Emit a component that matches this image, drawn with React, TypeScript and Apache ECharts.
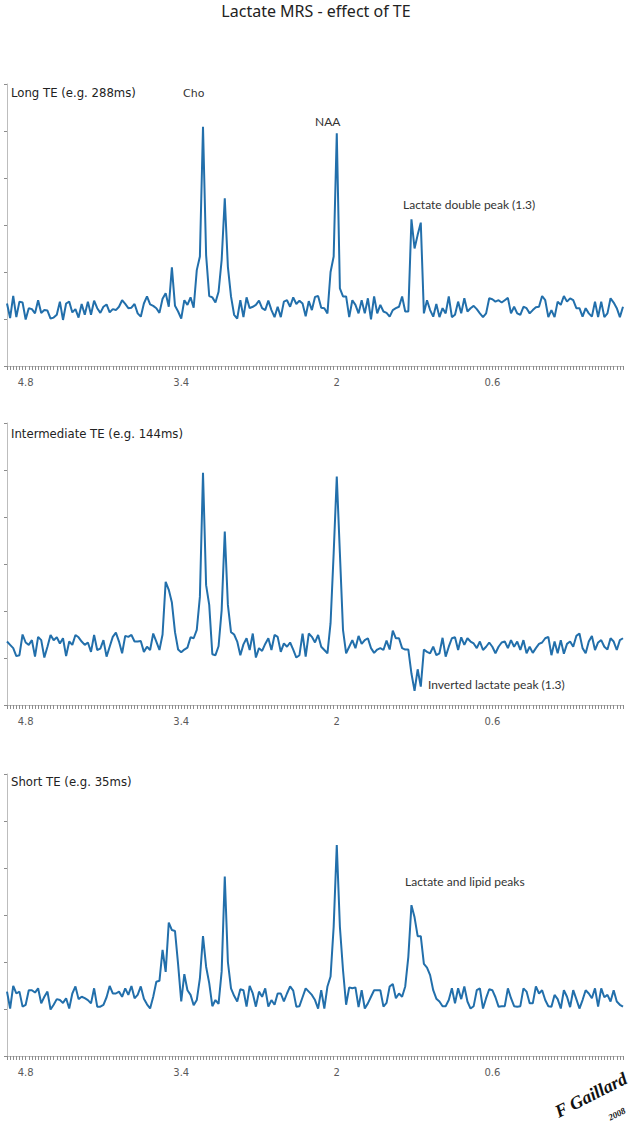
import React, { useEffect, useRef } from "react";
import * as echarts from "echarts";

// ---- axis definition (chemical shift, ppm, decreasing to the right) ----
const ppmStart = 4.968;
const ppmStep = 0.028;
const pointCount = 199;
const ppmTickLabels = ["4.8", "3.4", "2", "0.6"];

// ---- texts ----
const chartTitle = "Lactate MRS - effect of TE";
const panelTitles = ["Long TE (e.g. 288ms)", "Intermediate TE (e.g. 144ms)", "Short TE (e.g. 35ms)"];
const peakLabels = ["Cho", "NAA", "Lactate double peak (1.3)", "Inverted lactate peak (1.3)", "Lactate and lipid peaks"];
const signature = ["F Gaillard", "2008"];

// ---- spectra (signal, arbitrary units) ----
const longTE = [
  1.33, 1.02, 1.49, 1.04, 1.37, 1.35, 0.99, 1.23, 1.21, 1.12,
  1.40, 1.13, 1.19, 1.18, 1.01, 1.03, 1.09, 1.37, 0.98, 1.33,
  1.37, 1.14, 1.21, 1.03, 1.32, 1.09, 1.37, 1.09, 1.39, 1.23,
  1.13, 1.26, 1.31, 1.14, 1.21, 1.19, 1.26, 1.40, 1.32, 1.23,
  1.24, 1.32, 1.12, 1.05, 1.33, 1.48, 1.31, 1.28, 1.23, 1.13,
  1.43, 1.55, 1.26, 2.10, 1.28, 1.16, 1.01, 1.40, 1.30, 1.46,
  1.24, 2.04, 2.33, 5.09, 2.36, 1.49, 1.46, 1.35, 1.58, 2.26,
  3.57, 2.11, 1.48, 1.09, 1.01, 1.40, 1.04, 1.46, 1.23, 1.26,
  1.30, 1.39, 1.23, 1.19, 1.39, 1.19, 1.04, 1.26, 1.04, 1.37,
  1.40, 1.26, 1.46, 1.32, 1.39, 1.33, 1.06, 1.38, 1.19, 1.47,
  1.49, 1.24, 1.23, 1.12, 2.00, 2.33, 4.95, 1.65, 1.48, 1.48,
  1.04, 1.40, 1.30, 1.12, 1.40, 1.12, 1.44, 0.99, 1.48, 1.12,
  1.30, 1.16, 1.13, 1.05, 1.19, 1.23, 1.26, 1.48, 1.16, 1.16,
  3.12, 2.50, 2.79, 3.05, 1.12, 1.40, 1.19, 1.05, 1.32, 1.04,
  1.23, 1.12, 1.48, 1.04, 1.09, 1.37, 1.12, 1.44, 1.16, 1.23,
  1.28, 1.21, 1.12, 1.04, 1.12, 1.44, 1.42, 1.37, 1.40, 1.35,
  1.40, 1.45, 1.12, 1.26, 1.12, 1.09, 1.26, 1.23, 1.12, 1.19,
  1.25, 1.26, 1.49, 1.40, 1.04, 1.19, 1.04, 1.37, 1.30, 1.49,
  1.37, 1.44, 1.40, 1.23, 1.23, 1.05, 1.23, 1.12, 1.05, 1.37,
  1.04, 1.37, 1.04, 1.12, 1.44, 1.35, 1.23, 1.04, 1.26,
];

const intermediateTE = [
  1.35, 1.28, 1.21, 1.04, 1.06, 1.50, 1.33, 1.28, 1.38, 1.03,
  1.45, 1.38, 1.01, 1.24, 1.49, 1.38, 1.44, 1.31, 1.42, 1.04,
  1.35, 1.28, 1.49, 1.44, 1.35, 1.28, 1.33, 1.13, 1.49, 1.17,
  1.20, 1.38, 1.03, 1.24, 1.45, 1.54, 1.35, 1.10, 1.47, 1.45,
  1.49, 1.35, 1.35, 1.36, 1.13, 1.24, 1.17, 1.52, 1.35, 1.17,
  1.50, 2.62, 2.45, 2.18, 1.55, 1.18, 1.12, 1.18, 1.22, 1.44,
  1.42, 1.60, 2.30, 4.94, 2.55, 2.13, 1.08, 1.06, 1.25, 2.02,
  3.69, 2.13, 1.55, 1.50, 1.35, 1.06, 1.29, 1.42, 1.17, 1.52,
  1.01, 1.21, 1.15, 1.30, 1.42, 1.17, 1.49, 1.45, 1.13, 1.31,
  1.24, 1.33, 1.18, 1.01, 1.06, 1.52, 1.03, 1.52, 1.45, 1.33,
  1.49, 1.24, 1.17, 1.10, 1.74, 3.23, 4.86, 3.23, 1.60, 1.10,
  1.24, 1.38, 1.21, 1.47, 1.30, 1.38, 1.42, 1.21, 1.11, 1.18,
  1.21, 1.17, 1.37, 1.18, 1.58, 1.42, 1.42, 1.21, 1.18, 1.18,
  0.67, 0.30, 0.76, 0.39, 1.18, 1.13, 1.10, 1.24, 1.06, 1.10,
  1.43, 1.03, 1.24, 1.42, 1.44, 1.17, 1.44, 1.28, 1.42, 1.35,
  1.31, 1.21, 1.35, 1.17, 1.24, 1.33, 1.24, 1.10, 1.24, 1.33,
  1.35, 1.21, 1.38, 1.24, 1.35, 1.17, 1.38, 1.10, 1.24, 1.11,
  1.21, 1.30, 1.33, 1.42, 1.45, 1.06, 1.35, 1.10, 1.38, 1.09,
  1.30, 1.35, 1.24, 1.47, 1.52, 1.21, 1.10, 1.35, 1.47, 1.17,
  1.33, 1.38, 1.24, 1.18, 1.42, 1.35, 1.17, 1.38, 1.42,
];

const shortTE = [
  1.37, 1.01, 1.49, 1.33, 1.37, 1.05, 1.09, 1.40, 1.40, 1.35,
  1.44, 1.12, 1.26, 1.37, 0.99, 1.09, 1.21, 1.19, 1.13, 1.23,
  1.01, 1.33, 1.48, 1.21, 1.26, 1.23, 1.19, 1.12, 1.44, 1.05,
  1.05, 1.09, 1.25, 1.49, 1.33, 1.33, 1.37, 1.26, 1.44, 1.30,
  1.49, 1.23, 1.30, 1.48, 1.22, 1.10, 1.01, 1.26, 1.58, 1.60,
  2.26, 1.79, 2.84, 2.68, 2.66, 1.95, 1.16, 1.74, 1.40, 1.30,
  1.08, 1.19, 1.65, 2.55, 1.90, 1.55, 1.06, 1.19, 1.11, 1.80,
  3.82, 2.00, 1.44, 1.28, 1.16, 1.42, 1.40, 1.05, 1.49, 1.33,
  1.05, 1.37, 1.26, 1.44, 1.05, 1.19, 1.09, 1.33, 1.33, 1.16,
  1.33, 1.48, 1.39, 1.05, 1.06, 1.25, 1.44, 1.37, 1.30, 1.19,
  1.01, 1.40, 1.01, 1.48, 1.69, 2.75, 4.49, 2.75, 1.83, 1.09,
  1.46, 1.44, 1.46, 1.04, 1.40, 1.01, 1.12, 1.26, 1.40, 1.40,
  1.40, 1.05, 1.13, 1.48, 1.53, 1.23, 1.33, 1.26, 1.48, 2.11,
  3.21, 2.95, 2.55, 2.55, 1.96, 1.88, 1.72, 1.40, 1.22, 1.16,
  1.06, 1.06, 1.19, 1.44, 1.12, 1.44, 1.21, 1.48, 1.16, 1.01,
  1.06, 1.40, 1.44, 1.01, 1.23, 1.42, 1.40, 1.25, 1.05, 1.06,
  1.06, 1.44, 1.23, 1.06, 1.05, 1.06, 1.44, 1.37, 1.12, 1.12,
  1.48, 1.33, 1.40, 1.19, 1.06, 1.05, 1.30, 1.21, 1.01, 1.40,
  1.26, 1.04, 1.40, 1.21, 1.01, 1.19, 1.40, 1.33, 1.23, 1.44,
  1.05, 1.44, 1.25, 1.30, 1.16, 1.40, 1.16, 1.09, 1.05,
];

const ppmCategories = Array.from({ length: pointCount }, (_, i) =>
  String(Number((ppmStart - i * ppmStep).toFixed(3)))
);

export default function App() {
  const ref = useRef<HTMLDivElement>(null);

  useEffect(() => {
    if (!ref.current) return;
    const chart = echarts.init(ref.current, undefined, { renderer: "svg" });
    const tops = [84, 423, 774];
    const spectra = [longTE, intermediateTE, shortTE];
    const axisColor = "#bdbdbd";
    const tickColor = "#8c8c8c";
    const lineColor = "#226fab";
    const titleY = [93, 434, 782];

    const textEl = (
      text: string,
      x: number,
      y: number,
      fontSize: number,
      fontFamily: string,
      fill: string,
      align = "left"
    ) => ({
      type: "text",
      x,
      y,
      silent: true,
      style: { text, fontSize, fontFamily, fill, align, verticalAlign: "middle" },
    });

    const categoryAxes = tops.map((_, i) => ({
      type: "category",
      gridIndex: i,
      position: "bottom",
      data: ppmCategories,
      boundaryGap: false,
      axisLine: { show: true, onZero: false, lineStyle: { color: axisColor, width: 1 } },
      axisTick: { show: true, interval: 0, length: 4, lineStyle: { color: tickColor, width: 1 } },
      axisLabel: {
        interval: (_idx: number, val: string) => ppmTickLabels.includes(val),
        color: "#5a5a5a",
        fontSize: 10,
        fontFamily: "DejaVu Sans",
        margin: 11,
      },
      splitLine: { show: false },
    }));

    chart.setOption({
      animation: false,
      backgroundColor: "#ffffff",
      grid: tops.map((t) => ({ left: 7, top: t, width: 616, height: 282 })),
      xAxis: categoryAxes,
      yAxis: tops.map((_, i) => ({
        type: "value",
        gridIndex: i,
        min: 0,
        max: 6,
        interval: 1,
        axisLine: { show: true, lineStyle: { color: axisColor, width: 1 } },
        axisTick: { show: true, length: 3, lineStyle: { color: tickColor, width: 1 } },
        axisLabel: { show: false },
        splitLine: { show: false },
      })),
      series: spectra.map((d, i) => ({
        type: "line",
        xAxisIndex: i,
        yAxisIndex: i,
        data: d,
        symbol: "none",
        showSymbol: false,
        silent: true,
        lineStyle: { color: lineColor, width: 2 },
      })),
      graphic: [
        textEl(chartTitle, 316, 11, 16, "Noto Sans", "#222222", "center"),
        textEl(panelTitles[0], 11, titleY[0], 11.7, "DejaVu Sans", "#222222"),
        textEl(panelTitles[1], 11, titleY[1], 11.7, "DejaVu Sans", "#222222"),
        textEl(panelTitles[2], 11, titleY[2], 11.7, "DejaVu Sans", "#222222"),
        textEl(peakLabels[0], 183, 93, 11, "DejaVu Sans", "#333333"),
        textEl(peakLabels[1], 315, 121, 12, "Lato", "#333333"),
        textEl(peakLabels[2], 403, 204, 12, "Lato", "#333333"),
        textEl(peakLabels[3], 428, 684, 12, "Lato", "#333333"),
        textEl(peakLabels[4], 405, 881, 12, "Lato", "#333333"),
        {
          type: "text",
          x: 591,
          y: 1095,
          rotation: 0.47,
          silent: true,
          style: {
            text: signature[0],
            fontSize: 18,
            fontStyle: "italic",
            fontWeight: "bold",
            fontFamily: "Liberation Serif",
            fill: "#111111",
            align: "center",
            verticalAlign: "middle",
          },
        },
        {
          type: "text",
          x: 617,
          y: 1114,
          rotation: 0.47,
          silent: true,
          style: {
            text: signature[1],
            fontSize: 9,
            fontStyle: "italic",
            fontWeight: "bold",
            fontFamily: "Liberation Serif",
            fill: "#111111",
            align: "center",
            verticalAlign: "middle",
          },
        },
      ],
    });

    return () => chart.dispose();
  }, []);

  return (
    <div
      ref={ref}
      style={{ position: "absolute", left: 0, top: 0, width: 633, height: 1127 }}
    />
  );
}
